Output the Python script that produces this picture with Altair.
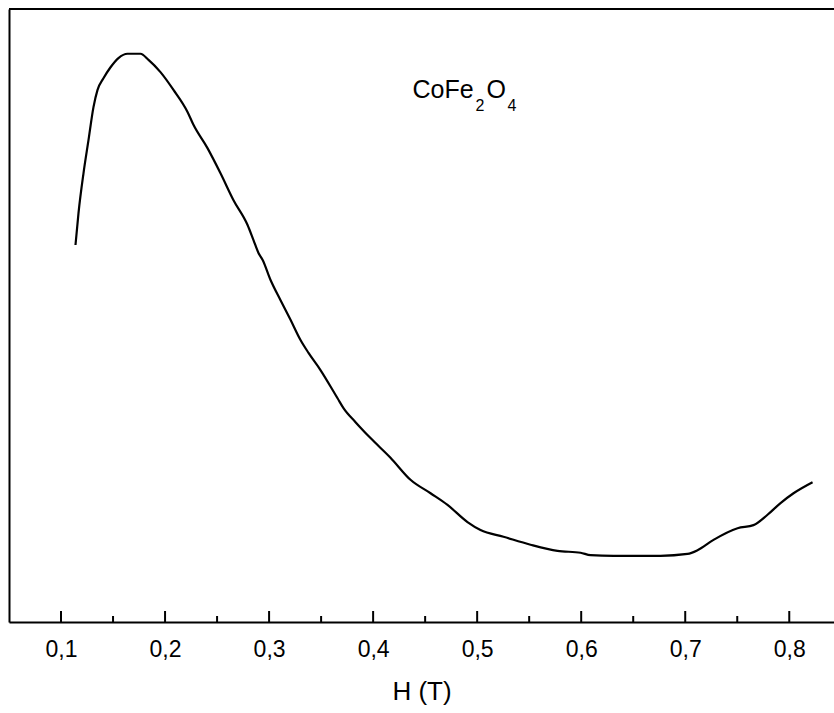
import altair as alt
import pandas as pd

# ---- data (H in tesla, signal in arbitrary units) ----
h_values = [0.1139, 0.1168, 0.1216, 0.1264, 0.1312, 0.1351, 0.1408, 0.1476, 0.1552, 0.1639,
            0.1764, 0.1841, 0.1956, 0.2081, 0.2216, 0.2273, 0.2408, 0.2533, 0.2658, 0.2792,
            0.2850, 0.2898, 0.2937, 0.3014, 0.3110, 0.3206, 0.3302, 0.3379, 0.3494, 0.3658,
            0.3715, 0.3831, 0.3975, 0.4167, 0.4359, 0.4552, 0.4715, 0.4907, 0.5032, 0.5253,
            0.5513, 0.5772, 0.5994, 0.6090, 0.6311, 0.6762, 0.7022, 0.7118, 0.7272, 0.7503,
            0.7656, 0.7791, 0.7916, 0.8041, 0.8224]
signal_values = [61.5, 66.7, 73.2, 78.6, 84.0, 86.8, 88.7, 90.5, 92.0, 92.7,
                 92.7, 91.7, 89.7, 86.8, 83.2, 81.1, 77.3, 73.2, 68.8, 64.8,
                 62.3, 60.2, 59.1, 55.8, 52.5, 49.3, 46.0, 43.9, 41.1, 36.5,
                 34.9, 32.6, 30.0, 26.8, 23.2, 21.0, 19.1, 16.3, 15.0, 13.9,
                 12.6, 11.6, 11.3, 10.9, 10.8, 10.8, 11.1, 11.7, 13.4, 15.3,
                 15.8, 17.5, 19.4, 21.0, 22.8]
major_ticks = [0.1, 0.2, 0.3, 0.4, 0.5, 0.6, 0.7, 0.8]
minor_ticks = [0.15, 0.25, 0.35, 0.45, 0.55, 0.65, 0.75]

# annotation "CoFe2O4" pieces (subscripts drawn smaller and lower)
ann_text = ["CoFe", "2", "O", "4"]
ann_h = [0.4378, 0.4984, 0.5090, 0.5292]
ann_s = [85.4, 83.4, 85.4, 83.4]
ann_size = [25, 16, 25, 16]

W, H = 825, 613
FONT = "Liberation Sans"

curve_df = pd.DataFrame({"H": h_values, "S": signal_values})
major_df = pd.DataFrame({"H": major_ticks})
minor_df = pd.DataFrame({"H": minor_ticks})
ann_df = pd.DataFrame({"H": ann_h, "S": ann_s, "txt": ann_text, "size": ann_size})

xscale = alt.Scale(domain=[0.05, 0.843], nice=False, zero=False)
yscale = alt.Scale(domain=[0, 100], nice=False, zero=False)

x_axis = alt.Axis(
    values=major_ticks,
    labelExpr="replace(format(datum.value, '.1f'), '.', ',')",
    ticks=False, tickSize=0, grid=False,
    labelPadding=16, labelFontSize=23, labelFont=FONT, labelColor="black",
    labelFlush=False, labelOverlap=False,
    title="H (T)", titleFont=FONT, titleFontSize=26, titleFontWeight="normal",
    titleColor="black", titlePadding=17,
    domainColor="black", domainWidth=2,
)
y_axis = alt.Axis(labels=False, ticks=False, grid=False, title=None,
                  domainColor="black", domainWidth=2)

X = alt.X("H:Q", scale=xscale, axis=x_axis, title="H (T)")
Y = alt.Y("S:Q", scale=yscale, axis=y_axis, title=None)

curve = alt.Chart(curve_df).mark_line(
    color="black", strokeWidth=2.2, interpolate="monotone"
).encode(x=X, y=Y)

major = alt.Chart(major_df).mark_rule(color="black", strokeWidth=2).encode(
    x=X, y=alt.value(H - 11), y2=alt.value(H),
)
minor = alt.Chart(minor_df).mark_rule(color="black", strokeWidth=2).encode(
    x=X, y=alt.value(H - 6), y2=alt.value(H),
)
top_border = alt.Chart(major_df).mark_rule(color="black", strokeWidth=2).encode(
    x=alt.value(0), x2=alt.value(W), y=alt.value(0),
)

ann = alt.Chart(ann_df).mark_text(
    align="left", baseline="alphabetic", font=FONT, color="black"
).encode(
    x=X, y=Y,
    text="txt:N",
    size=alt.Size("size:Q", scale=None, legend=None),
)

chart = alt.layer(curve, major, minor, top_border, ann).properties(
    width=W, height=H,
    autosize=alt.AutoSizeParams(type="none"),
    padding={"left": 9, "top": 9, "right": 0, "bottom": 91},
).configure_view(stroke=None).configure(background="white")

chart.save("out.html", embed_options={"renderer": "svg", "actions": False})
